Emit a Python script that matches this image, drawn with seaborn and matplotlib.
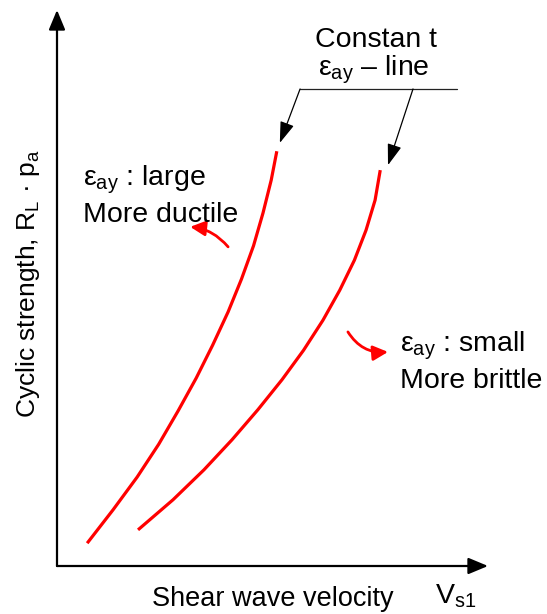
import matplotlib
matplotlib.use("Agg")
import matplotlib.pyplot as plt
import seaborn as sns
import pandas as pd

sns.set_theme(style="white")
plt.rcParams["font.family"] = ["Liberation Sans", "DejaVu Sans"]
plt.rcParams["text.color"] = "black"
plt.rcParams["mathtext.fontset"] = "custom"
plt.rcParams["mathtext.rm"] = "Liberation Sans"
plt.rcParams["mathtext.it"] = "Liberation Sans"
plt.rcParams["mathtext.sf"] = "Liberation Sans"

# Constant eps_ay lines (schematic): shear wave velocity vs cyclic strength
ductile_vs = [0.70, 1.30, 1.86, 2.36, 2.81, 3.23, 3.61, 3.97, 4.28, 4.56, 4.78, 4.97, 5.10]
ductile_rl = [0.41, 1.01, 1.60, 2.19, 2.79, 3.38, 3.97, 4.57, 5.16, 5.76, 6.35, 6.94, 7.46]
brittle_vs = [1.88, 2.69, 3.41, 4.06, 4.66, 5.22, 5.72, 6.17, 6.56, 6.90, 7.17, 7.38, 7.50]
brittle_rl = [0.65, 1.19, 1.73, 2.27, 2.81, 3.35, 3.88, 4.42, 4.96, 5.50, 6.04, 6.58, 7.12]

df = pd.concat([
    pd.DataFrame({"Vs1": ductile_vs, "RL": ductile_rl, "line": "large"}),
    pd.DataFrame({"Vs1": brittle_vs, "RL": brittle_rl, "line": "small"}),
])

W, H = 547, 614
fig = plt.figure(figsize=(W / 100, H / 100), dpi=100)
ax = fig.add_axes([57 / W, 48 / H, 431 / W, 556 / H])

sns.lineplot(data=df, x="Vs1", y="RL", units="line", estimator=None, sort=False,
             color="#ff0000", lw=2.3, ax=ax, legend=False,
             solid_joinstyle="round", solid_capstyle="butt")

ax.set_xlim(0, 10)
ax.set_ylim(0, 10)
for s in ax.spines.values():
    s.set_visible(False)
ax.set_xticks([])
ax.set_yticks([])
ax.set_xlabel("")
ax.set_ylabel("")

# axes drawn as arrows
axis_arrow = dict(arrowstyle="-|>,head_length=0.6,head_width=0.25", color="black",
                  lw=1.6, mutation_scale=20, shrinkA=0, shrinkB=0)
ax.annotate("", xy=(10.0, 0), xytext=(0, 0), arrowprops=axis_arrow, annotation_clip=False)
ax.annotate("", xy=(0, 10.0), xytext=(0, 0), arrowprops=axis_arrow, annotation_clip=False)

# pointer lines to the constant-eps lines
ax.plot([5.64, 9.28], [8.58, 8.58], color="#222222", lw=0.9)
ptr = dict(arrowstyle="-|>,head_length=0.65,head_width=0.22", color="black",
           lw=0.9, mutation_scale=20, shrinkA=0, shrinkB=0)
ax.annotate("", xy=(5.17, 7.61), xytext=(5.64, 8.58), arrowprops=ptr)
ax.annotate("", xy=(7.68, 7.21), xytext=(8.26, 8.58), arrowprops=ptr)

# red curved arrows
red = dict(arrowstyle="-|>,head_length=0.5,head_width=0.25", color="#ff0000",
           lw=2.0, mutation_scale=18, shrinkA=0, shrinkB=0)
ax.annotate("", xy=(3.09, 6.10), xytext=(3.97, 5.74),
            arrowprops=dict(red, connectionstyle="arc3,rad=0.2"))
ax.annotate("", xy=(7.68, 3.85), xytext=(6.75, 4.21),
            arrowprops=dict(red, connectionstyle="arc3,rad=0.3"))

fs = 20.5
ax.text(7.40, 9.33, "Constan t", fontsize=fs, ha="center", va="baseline")
ax.text(7.36, 8.83, r"$\mathregular{ε_{ay}}$ – line", fontsize=fs, ha="center", va="baseline")
ax.text(0.60, 6.85, r"$\mathregular{ε_{ay}}$ : large", fontsize=fs, ha="left", va="baseline")
ax.text(0.60, 6.19, "More ductile", fontsize=fs, ha="left", va="baseline")
ax.text(7.96, 3.85, r"$\mathregular{ε_{ay}}$ : small", fontsize=fs, ha="left", va="baseline")
ax.text(7.96, 3.20, "More brittle", fontsize=fs, ha="left", va="baseline")
ax.text(5.01, -0.72, "Shear wave velocity", fontsize=19.5, ha="center", va="baseline")
ax.text(8.77, -0.67, r"V$\mathregular{_{s1}}$", fontsize=fs, ha="left", va="baseline")
ax.text(-0.67, 5.08, r"Cyclic strength, R$\mathregular{_L}$ · p$\mathregular{_a}$",
        fontsize=19, rotation=90, ha="center", va="center")

fig.savefig("out.png", dpi=100)
